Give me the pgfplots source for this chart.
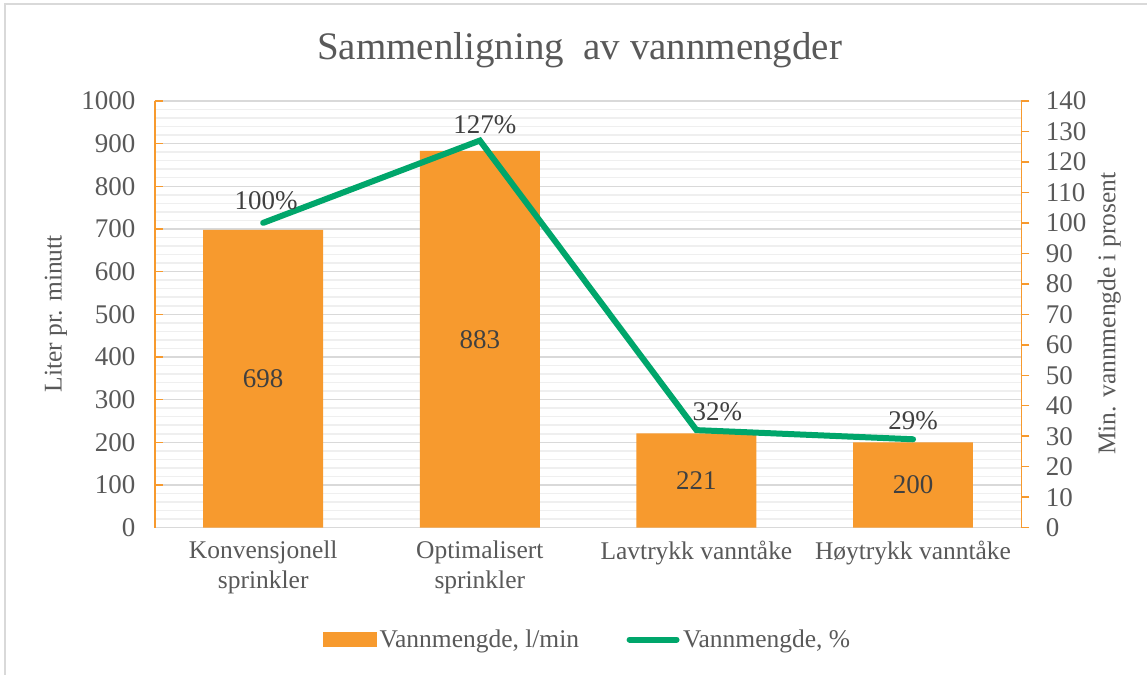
\documentclass[border=0pt]{standalone}
\usepackage{pgfplots}
\pgfplotsset{compat=1.18}
\usepackage{fontspec}
\setmainfont{Liberation Serif}
\definecolor{barorange}{HTML}{F79A2E}
\definecolor{linegreen}{HTML}{00A66B}
\definecolor{txt}{HTML}{595959}
\definecolor{lbl}{HTML}{404040}
\definecolor{gridmaj}{HTML}{D9D9D9}
\definecolor{gridmin}{HTML}{EFEFEF}
\newcommand{\fs}{\fontsize{25.5}{30}\selectfont}
\newcommand{\fn}{\fontsize{27}{30}\selectfont}
\begin{document}
\begin{tikzpicture}[x=1pt,y=1pt]
\fill[white] (0,0) rectangle (1148,675);
\draw[gridmaj, line width=1.5pt] (5,0) -- (5,671) -- (1148,671);
\node[font=\fontsize{39}{44}\selectfont, text=txt] at (580,625) {Sammenligning\ \ av vannmengder};
\node[rotate=90, font=\fs, text=txt] at (56,361) {Liter pr. minutt};
\node[rotate=90, font=\fs, text=txt] at (1110,361) {Min. vannmengde i prosent};

\begin{axis}[
  at={(155pt,147pt)}, anchor=south west, scale only axis,
  width=867pt, height=427pt,
  xmin=-0.5, xmax=3.5, ymin=0, ymax=1000,
  axis y line*=left, axis x line*=bottom,
  y axis line style={barorange, line width=1.5pt, -},
  x axis line style={gridmaj, line width=1.5pt, -},
  xtick={0,1,2,3},
  xticklabels={{Konvensjonell\\sprinkler},{Optimalisert\\sprinkler},{Lavtrykk vanntåke},{Høytrykk vanntåke}},
  xticklabel style={align=center, anchor=north, yshift=-10pt, font=\fs, text=txt},
  ytick={0,100,...,1000},
  yticklabel style={font=\fn, text=txt, xshift=-16pt},
  /pgf/number format/assume math mode=true,
  /pgf/number format/1000 sep={},
  tick style={barorange, line width=1.5pt},
  major x tick style=transparent,
  tick align=inside, major tick length=8pt, minor tick length=0pt,
  minor y tick num=4,
  ymajorgrids, yminorgrids,
  major grid style={gridmaj, line width=1.5pt},
  minor grid style={gridmin, line width=1.5pt},
  clip=false,
]
\addplot[ybar, bar width=120pt, fill=barorange, draw=none] coordinates {(0,698) (1,883) (2,221) (3,200)};
\addplot[draw=none, mark=none, nodes near coords, point meta=explicit symbolic,
  nodes near coords style={anchor=center, font=\fn, text=lbl}]
  coordinates {(0,349)[698] (1,441.5)[883] (2,110.5)[221] (3,100)[200]};
\end{axis}

\begin{axis}[
  at={(155pt,147pt)}, anchor=south west, scale only axis,
  width=867pt, height=427pt,
  xmin=-0.5, xmax=3.5, ymin=0, ymax=140,
  axis y line*=right, axis x line=none,
  y axis line style={barorange, line width=1.5pt, -},
  ytick={0,10,...,140},
  yticklabel style={font=\fn, text=txt, xshift=13pt},
  /pgf/number format/assume math mode=true,
  tick style={barorange, line width=1.5pt},
  tick align=outside, major tick length=8pt,
  clip=false,
  legend style={at={(rel axis cs:0.5,0)}, anchor=center, yshift=-112pt, xshift=0pt,
    draw=none, fill=none, font=\fs, text=txt,
    nodes={inner xsep=3.5pt},
    /tikz/every even column/.append style={column sep=44pt}},
  legend columns=2,
]
\addlegendimage{legend image code/.code={\fill[barorange] (0pt,-7pt) rectangle (53pt,7pt);}}
\addlegendentry{Vannmengde, l/min}
\addlegendimage{legend image code/.code={\draw[linegreen, line width=6pt, line cap=round] (3pt,0pt) -- (50pt,0pt);}}
\addlegendentry{Vannmengde, \%}
\addplot[linegreen, line width=6pt, mark=none, line cap=round]
  coordinates {(0,100) (1,127) (2,32) (3,29)};
\addplot[draw=none, mark=none, nodes near coords, point meta=explicit symbolic,
  nodes near coords style={anchor=south, yshift=9pt, xshift=3pt, font=\fn, text=lbl}]
  coordinates {(0,100)[100\%]};
\addplot[draw=none, mark=none, nodes near coords, point meta=explicit symbolic,
  nodes near coords style={anchor=south, yshift=3pt, xshift=5pt, font=\fn, text=lbl}]
  coordinates {(1,127)[127\%]};
\addplot[draw=none, mark=none, nodes near coords, point meta=explicit symbolic,
  nodes near coords style={anchor=south, yshift=6pt, font=\fn, text=lbl}]
  coordinates {(3,29)[29\%]};
\addplot[draw=none, mark=none, nodes near coords, point meta=explicit symbolic,
  nodes near coords style={anchor=south, yshift=6pt, xshift=21pt, font=\fn, text=lbl}]
  coordinates {(2,32)[32\%]};
\end{axis}
\end{tikzpicture}
\end{document}
